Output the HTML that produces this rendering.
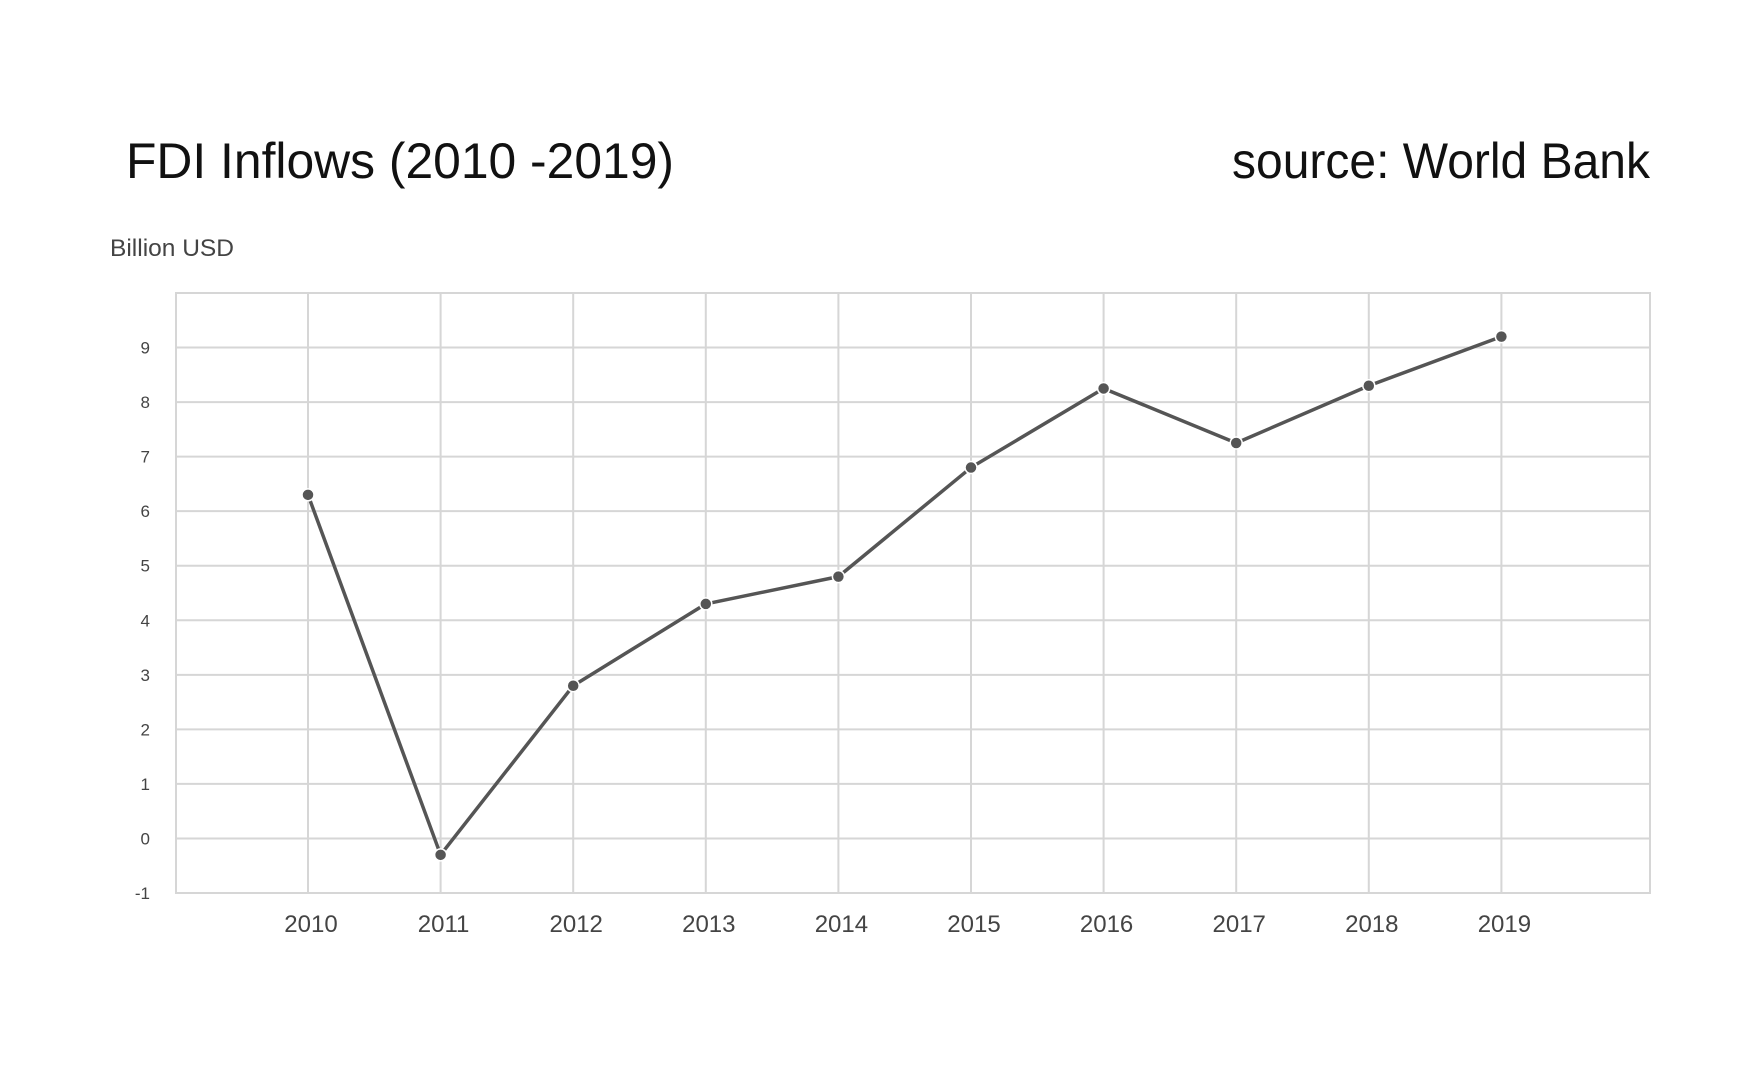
<!DOCTYPE html>
<html><head><meta charset="utf-8"><style>
html,body{margin:0;padding:0;background:#fff;}
svg{display:block;font-family:"Liberation Sans",sans-serif;}
</style></head><body>
<svg width="1749" height="1068" viewBox="0 0 1749 1068">
<text x="126" y="178" font-size="50" fill="#111" textLength="548" lengthAdjust="spacingAndGlyphs">FDI Inflows (2010 -2019)</text>
<text x="1650" y="178" font-size="50" fill="#111" text-anchor="end" textLength="418" lengthAdjust="spacingAndGlyphs">source: World Bank</text>
<text x="110" y="256" font-size="24" fill="#444" textLength="124" lengthAdjust="spacingAndGlyphs">Billion USD</text>
<g id="grid"></g>
<g id="axes"></g>
<g id="series"></g>
</svg>
<script>
const years=[2010,2011,2012,2013,2014,2015,2016,2017,2018,2019];
const values=[6.3,-0.3,2.8,4.3,4.8,6.8,8.25,7.25,8.3,9.2];
const yTicks=[-1,0,1,2,3,4,5,6,7,8,9];
const NS="http://www.w3.org/2000/svg";
const L=176,R=1650,T=293,B=893;
const yMin=-1,yMax=10;
function ys(v){return B-(v-yMin)/(yMax-yMin)*(B-T);}
function xs(yr){return 308+(yr-2010)*132.6;}
function mk(tag,attrs,parent){const e=document.createElementNS(NS,tag);for(const k in attrs)e.setAttribute(k,attrs[k]);parent.appendChild(e);return e;}
const grid=document.getElementById('grid'),axes=document.getElementById('axes'),series=document.getElementById('series');
yTicks.forEach(t=>{
  if(t>yMin){const l=mk('line',{x1:L,x2:R,y1:ys(t),y2:ys(t),stroke:'#d6d6d6','stroke-width':2},grid);
  
  }
  const tx=mk('text',{x:150,y:ys(t)+6,'font-size':17,fill:'#444','text-anchor':'end'},axes);
  tx.textContent=t;
  
  
});
years.forEach(yr=>{
  const l=mk('line',{x1:xs(yr),x2:xs(yr),y1:T,y2:B,stroke:'#d6d6d6','stroke-width':2},grid);
  
  
  const tx=mk('text',{x:xs(yr)+3,y:932,'font-size':24,fill:'#444','text-anchor':'middle'},axes);
  tx.textContent=yr;
  
  
});
const box=mk('rect',{x:L,y:T,width:R-L,height:B-T,fill:'none',stroke:'#d6d6d6','stroke-width':2},grid);


const pts=years.map((yr,i)=>xs(yr)+','+ys(values[i])).join(' ');
const line=mk('polyline',{points:pts,fill:'none',stroke:'#555','stroke-width':3.5,'stroke-linejoin':'round'},series);


years.forEach((yr,i)=>{
  const c=mk('circle',{cx:xs(yr),cy:ys(values[i]),r:6,fill:'#555',stroke:'#fff','stroke-width':1.5},series);
  
  
});
</script>
</body></html>
